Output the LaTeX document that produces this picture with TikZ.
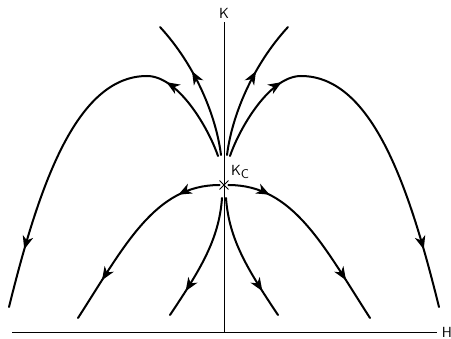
\documentclass[tikz,border=0pt]{standalone}
\usepackage{tikz}
\usetikzlibrary{arrows.meta,decorations.markings,shapes.misc}

\tikzset{flowtip/.tip={Stealth[length=10pt, width=8pt, inset=3pt]}}

\begin{document}
\begin{tikzpicture}[
  x=0.75pt, y=-0.75pt,
  axis/.style={line width=0.6pt},
  flow/.style={line width=1.5pt, line cap=round},
  flow arrow/.style={postaction={decorate}, decoration={markings, mark=at position #1 with {\arrow{flowtip}}}},
  flow arrows/.style 2 args={postaction={decorate}, decoration={markings,
      mark=at position #1 with {\arrow{flowtip}}, mark=at position #2 with {\arrow{flowtip}}}},
  lbl/.style={font=\sffamily\fontsize{11}{13}\selectfont, inner sep=1pt, outer sep=2pt},
]
  \useasboundingbox (0,0) rectangle (451,339);

  \node[lbl] (K) at (224,13) {K};
  \node[lbl, outer sep=3pt] (H) at (447,332) {H};
  \coordinate (origin) at (224,332);
  \coordinate (hleft) at (12,332);
  \draw[axis] (K) -- (origin);
  \draw[axis] (hleft) -- (H);

  \node[cross out, draw, line width=0.7pt, minimum size=6pt, inner sep=0pt] (kc) at (224,185) {};
  \node[lbl] (kclabel) at (240,172) {K\raisebox{-2pt}{\fontsize{9.5}{11}\selectfont C}};

  \coordinate (olstart) at (218,156);
  \coordinate (olpeak) at (147,76);
  \coordinate (olend) at (9,307);
  \coordinate (orstart) at (230,156);
  \coordinate (orpeak) at (301,76);
  \coordinate (orend) at (439,307);
  \coordinate (ilstart) at (221,155);
  \coordinate (iltop) at (160,27);
  \coordinate (irstart) at (227,155);
  \coordinate (irtop) at (288,27);
  \coordinate (llend) at (78,318);
  \coordinate (lrend) at (370,318);
  \coordinate (dlstart) at (222,198);
  \coordinate (dlend) at (170,315);
  \coordinate (drstart) at (226,198);
  \coordinate (drend) at (278,315);

  \draw[flow, flow arrows={0.23}{0.85}] (olstart) .. controls (208,127) and (178,76) .. (olpeak)
    .. controls (75,76) and (38,190) .. (olend);
  \draw[flow, flow arrows={0.23}{0.85}] (orstart) .. controls (240,127) and (270,76) .. (orpeak)
    .. controls (373,76) and (410,190) .. (orend);
  \draw[flow, flow arrow=0.62] (ilstart) .. controls (216,115) and (195,65) .. (iltop);
  \draw[flow, flow arrow=0.62] (irstart) .. controls (232,115) and (253,65) .. (irtop);

  \draw[flow, flow arrows={0.21}{0.78}] (kc) .. controls (155,185) and (125,245) .. (llend);
  \draw[flow, flow arrows={0.21}{0.78}] (kc) .. controls (293,185) and (323,245) .. (lrend);
  \draw[flow, flow arrow=0.78] (dlstart) .. controls (219,240) and (200,270) .. (dlend);
  \draw[flow, flow arrow=0.78] (drstart) .. controls (229,240) and (248,270) .. (drend);
\end{tikzpicture}
\end{document}
